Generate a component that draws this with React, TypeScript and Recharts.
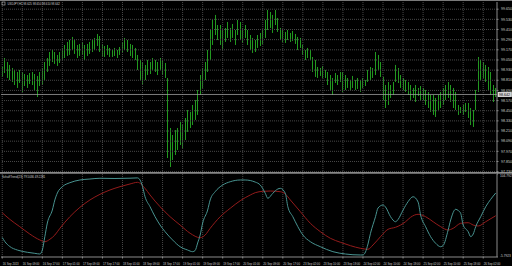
import React from 'react';
import { ComposedChart, Bar, XAxis, YAxis, ReferenceLine, LineChart, Line } from 'recharts';

// ---------- data ----------
const barHigh = [
  98.967, 99.073, 99.026, 98.991, 98.955, 98.932, 98.908, 98.932, 98.908, 98.884,
  98.872, 98.896, 98.908, 98.884, 98.861, 98.908, 98.955, 99.026, 99.073, 99.144,
  99.168, 99.144, 99.109, 99.144, 99.192, 99.227, 99.263, 99.286, 99.322, 99.286,
  99.227, 99.239, 99.263, 99.227, 99.239, 99.263, 99.286, 99.310, 99.357, 99.333,
  99.239, 99.215, 99.227, 99.192, 99.168, 99.192, 99.168, 99.203, 99.263, 99.310,
  99.286, 99.239, 99.227, 99.192, 99.109, 99.050, 99.026, 98.991, 99.050, 99.026,
  99.073, 99.050, 99.026, 99.073, 99.050, 99.014, 98.837, 98.246, 98.163, 98.222,
  98.246, 98.317, 98.281, 98.364, 98.459, 98.435, 98.518, 98.577, 98.695, 98.872,
  98.955, 99.026, 99.168, 99.404, 99.523, 99.582, 99.463, 99.463, 99.404, 99.428,
  99.499, 99.428, 99.475, 99.404, 99.523, 99.499, 99.428, 99.463, 99.404, 99.345,
  99.310, 99.286, 99.345, 99.369, 99.404, 99.523, 99.641, 99.617, 99.582, 99.641,
  99.546, 99.428, 99.404, 99.381, 99.404, 99.369, 99.393, 99.357, 99.322, 99.310,
  99.227, 99.168, 99.192, 99.168, 99.085, 99.050, 98.967, 98.955, 98.979, 98.932,
  98.908, 98.872, 98.837, 98.896, 98.872, 98.908, 98.908, 98.872, 98.837, 98.813,
  98.861, 98.813, 98.837, 98.813, 98.837, 98.813, 98.932, 98.967, 98.955, 99.144,
  99.109, 99.026, 98.849, 98.754, 98.790, 98.754, 98.790, 98.991, 98.955, 98.872,
  98.837, 98.813, 98.790, 98.754, 98.719, 98.754, 98.719, 98.742, 98.719, 98.695,
  98.672, 98.636, 98.636, 98.601, 98.636, 98.672, 98.719, 98.754, 98.790, 98.754,
  98.719, 98.672, 98.518, 98.494, 98.518, 98.542, 98.542, 98.482, 98.459, 98.695,
  99.085, 99.050, 99.026, 98.991, 98.967, 98.908, 98.754, 98.719,
];

const barLow = [
  98.849, 98.896, 98.837, 98.813, 98.790, 98.754, 98.719, 98.778, 98.672, 98.742,
  98.719, 98.766, 98.754, 98.695, 98.612, 98.742, 98.754, 98.813, 98.908, 98.979,
  99.026, 99.003, 98.979, 99.014, 99.050, 99.073, 99.097, 99.109, 99.168, 99.121,
  99.073, 99.097, 99.109, 99.050, 99.097, 99.121, 99.144, 99.168, 99.215, 99.144,
  99.097, 99.085, 99.109, 99.085, 99.085, 99.097, 99.073, 99.109, 99.144, 99.168,
  99.144, 99.097, 99.073, 99.050, 98.932, 98.813, 98.754, 98.813, 98.872, 98.884,
  98.932, 98.908, 98.872, 98.932, 98.872, 98.837, 97.891, 97.785, 97.868, 97.927,
  97.986, 98.045, 98.010, 98.104, 98.199, 98.246, 98.281, 98.341, 98.400, 98.636,
  98.719, 98.813, 98.908, 99.050, 99.227, 99.345, 99.286, 99.227, 99.168, 99.263,
  99.310, 99.263, 99.310, 99.227, 99.345, 99.286, 99.251, 99.310, 99.227, 99.168,
  99.133, 99.144, 99.192, 99.215, 99.239, 99.310, 99.404, 99.428, 99.369, 99.463,
  99.381, 99.286, 99.263, 99.251, 99.286, 99.263, 99.274, 99.239, 99.168, 99.192,
  99.109, 99.050, 99.073, 99.050, 98.908, 98.849, 98.837, 98.861, 98.837, 98.837,
  98.754, 98.695, 98.636, 98.778, 98.754, 98.790, 98.672, 98.695, 98.719, 98.695,
  98.719, 98.695, 98.707, 98.672, 98.719, 98.742, 98.790, 98.813, 98.837, 98.872,
  98.932, 98.849, 98.577, 98.482, 98.518, 98.601, 98.636, 98.790, 98.778, 98.719,
  98.695, 98.672, 98.636, 98.577, 98.601, 98.553, 98.624, 98.577, 98.577, 98.518,
  98.482, 98.435, 98.400, 98.376, 98.459, 98.482, 98.518, 98.577, 98.601, 98.553,
  98.482, 98.459, 98.400, 98.423, 98.400, 98.435, 98.364, 98.281, 98.258, 98.459,
  98.672, 98.813, 98.837, 98.790, 98.695, 98.636, 98.553, 98.612,
];

const lastClose = 98.642;

const priceTicks = [
  99.65, 99.53, 99.41, 99.29, 99.17, 99.05, 98.93, 98.81, 98.69,
  98.57, 98.45, 98.33, 98.21, 98.09, 97.97, 97.85, 97.73,
];

const timeTickBars = [0, 8, 16, 24, 32, 40, 48, 56, 64, 72, 80, 88, 96, 104, 112, 120, 128, 136, 144, 152, 160, 168, 176, 184, 192];
const timeTickLabels = [
  '16 Sep 2013', '16 Sep 09:00', '16 Sep 17:00', '17 Sep 01:00', '17 Sep 09:00', '17 Sep 17:00',
  '18 Sep 01:00', '18 Sep 09:00', '18 Sep 17:00', '19 Sep 01:00', '19 Sep 09:00', '19 Sep 17:00',
  '20 Sep 01:00', '20 Sep 09:00', '20 Sep 17:00', '23 Sep 02:00', '23 Sep 10:00', '23 Sep 18:00',
  '24 Sep 02:00', '24 Sep 10:00', '24 Sep 18:00', '25 Sep 02:00', '25 Sep 10:00', '25 Sep 18:00',
  '26 Sep 02:00',
];

const fastBars = [0, 1, 3, 6, 10, 13, 15, 16, 17, 18, 20, 21, 22, 24, 27, 31, 35, 39, 45, 51, 54, 55, 56, 57, 59, 61, 63, 65, 68, 71, 74, 76, 77, 78, 79, 80, 82, 83, 85, 88, 91, 95, 97, 101, 103, 105, 106, 108, 110, 111, 113, 114, 116, 118, 120, 123, 127, 132, 137, 143, 144, 145, 146, 147, 149, 150, 152, 153, 155, 157, 158, 160, 162, 164, 166, 167, 169, 171, 173, 175, 176, 178, 179, 181, 182, 183, 184, 186, 187, 188, 189, 191, 193, 195, 197];
const fastValues = [20.2, 14.9, 8.2, 3.5, 0.5, -0.9, -1.8, 3.5, 21.3, 39.5, 56.8, 70.2, 79.5, 87.9, 93.2, 96.8, 98.1, 99.1, 98.8, 99.2, 99.6, 96.8, 87.9, 74.5, 61.2, 47.9, 36.8, 27.9, 16.9, 7.9, 3.5, 1.3, 2.9, 12.9, 23.5, 39.5, 56.8, 70.2, 81.2, 90.1, 94.5, 96.8, 96.8, 94.0, 90.1, 79.1, 72.4, 79.1, 84.8, 85.7, 79.1, 61.2, 47.9, 34.6, 23.5, 14.6, 7.9, 1.3, -1.8, -3.1, -3.1, 0.9, 11.5, 25.8, 47.9, 59.5, 63.5, 60.8, 47.9, 41.2, 44.2, 56.8, 67.9, 74.5, 67.5, 50.2, 34.6, 21.3, 12.5, 7.9, 9.5, 30.2, 43.5, 57.8, 56.2, 52.4, 36.8, 27.9, 21.3, 24.8, 34.6, 47.9, 61.2, 71.1, 79.5];

const slowBars = [0, 3, 7, 11, 15, 17, 19, 21, 23, 27, 31, 35, 39, 43, 47, 51, 54, 57, 59, 63, 67, 71, 75, 79, 81, 83, 87, 91, 95, 99, 101, 104, 107, 111, 113, 115, 119, 123, 127, 131, 135, 139, 143, 146, 148, 151, 154, 157, 159, 161, 163, 166, 169, 172, 175, 178, 180, 183, 186, 188, 190, 193, 197];
const slowValues = [53.2, 44.4, 34.6, 24.8, 16.9, 14.6, 17.8, 23.5, 32.4, 47.9, 60.4, 70.2, 77.7, 83.5, 87.9, 91.5, 93.7, 85.7, 76.8, 61.2, 47.9, 36.8, 25.8, 19.9, 23.5, 32.4, 47.9, 59.1, 69.2, 76.8, 79.9, 81.7, 82.1, 81.2, 78.1, 70.2, 54.6, 39.1, 27.9, 19.1, 13.8, 9.3, 5.8, 4.5, 10.2, 21.3, 31.1, 33.8, 36.8, 41.2, 47.1, 51.1, 47.9, 41.2, 34.6, 30.2, 32.4, 39.1, 39.9, 36.8, 35.5, 41.2, 49.2];

const oscTicks = [104.7923, -5.7923];
const mainHeader = 'USDJPY,H1  98.625 98.650 98.610 98.642';
const subHeader = 'SchaffTrend(23) 79.5036 49.2281';

// ---------- styles ----------
const FONT = '"Liberation Sans", Arial, sans-serif';
const BAR_COLOR = '#21981f';
const GRID = '#474747';
const TEXT = '#cfcfcf';
const AXIS = '#8a8a8a';
const FAST = '#489390';
const SLOW = '#931b1b';

const mainData = barHigh.map((h, i) => ({ i, range: [barLow[i], h] }));
const fastData = fastBars.map((b, k) => ({ i: b, v: fastValues[k] }));
const slowData = slowBars.map((b, k) => ({ i: b, v: slowValues[k] }));

function HiLoShape(props: any) {
  const { x, y, width, height } = props;
  if (x == null || y == null) return null;
  const top = Math.min(y, y + height);
  const len = Math.max(1, Math.abs(height));
  const cx = Math.floor(x + width / 2) + 0.5;
  return <line x1={cx} x2={cx} y1={top} y2={top + len} stroke={BAR_COLOR} strokeWidth={1} />;
}

function PriceTick(props: any) {
  const { x, y, payload } = props;
  return (
    <text x={x + 0.5} y={y + 1.2} fontSize={3.6} fill={TEXT} fontFamily={FONT} textAnchor="start">
      {Number(payload.value).toFixed(3)}
    </text>
  );
}

function OscTick(props: any) {
  const { x, y, payload } = props;
  const isTop = payload.value === oscTicks[0];
  return (
    <text x={x} y={y + (isTop ? 2.6 : 0.4)} fontSize={3.2} fill={TEXT} fontFamily={FONT} textAnchor="start">
      {String(payload.value)}
    </text>
  );
}

function TimeTick(props: any) {
  const { x, y, payload } = props;
  const k = timeTickBars.indexOf(payload.value);
  return (
    <text x={x + 0.5} y={y + 4} fontSize={2.8} fill={TEXT} fontFamily={FONT} textAnchor="start">
      {k >= 0 ? timeTickLabels[k] : ''}
    </text>
  );
}

function BidLabel(props: any) {
  const vb = props.viewBox || {};
  const x = (vb.x || 0) + (vb.width || 0);
  const y = vb.y || 0;
  return (
    <g>
      <rect x={x + 1} y={y - 2.3} width={13.5} height={4.6} fill="#d6d6d6" stroke="#ffffff" strokeWidth={0.5} />
      <text x={x + 2} y={y + 1.2} fontSize={3.6} fill="#000" fontFamily={FONT}>
        {lastClose.toFixed(3)}
      </text>
    </g>
  );
}

export default function App() {
  return (
    <div style={{ position: 'fixed', left: 0, top: 0, width: 512, height: 266, background: '#000', overflow: 'hidden' }}>
      <div style={{ position: 'absolute', left: 0, top: 0 }}>
        <ComposedChart width={512} height={173} data={mainData} margin={{ top: 2, right: 0, bottom: 0, left: 1 }}>
          <XAxis dataKey="i" type="category" hide />
          <YAxis
            orientation="right"
            width={15}
            domain={[97.714, 99.735]}
            allowDataOverflow
            ticks={priceTicks}
            interval={0}
            tick={<PriceTick />}
            tickSize={1.5}
            tickLine={{ stroke: AXIS }}
            axisLine={{ stroke: AXIS }}
          />
          {priceTicks.map((p) => (
            <ReferenceLine key={'h' + p} y={p} stroke={GRID} strokeDasharray="1 1" />
          ))}
          {timeTickBars.map((b) => (
            <ReferenceLine key={'v' + b} x={b} stroke={GRID} strokeDasharray="1 1" />
          ))}
          <Bar dataKey="range" shape={<HiLoShape />} isAnimationActive={false} />
          <ReferenceLine y={lastClose} stroke="#9c9c9c" strokeWidth={0.8} label={<BidLabel />} />
        </ComposedChart>
      </div>
      <div style={{ position: 'absolute', left: 0, top: 173 }}>
        <LineChart width={512} height={93} margin={{ top: 1, right: 0, bottom: 0, left: 1 }}>
          <XAxis
            dataKey="i"
            type="number"
            domain={[-0.5, 197.5]}
            allowDataOverflow
            ticks={timeTickBars}
            interval={0}
            height={9}
            tick={<TimeTick />}
            tickSize={1.5}
            tickLine={{ stroke: AXIS }}
            axisLine={{ stroke: AXIS }}
          />
          <YAxis
            orientation="right"
            width={15}
            type="number"
            domain={[-5.79, 104.79]}
            allowDataOverflow
            ticks={oscTicks}
            interval={0}
            tick={<OscTick />}
            tickSize={1}
            tickLine={{ stroke: AXIS }}
            axisLine={{ stroke: AXIS }}
          />
          {timeTickBars.map((b) => (
            <ReferenceLine key={'sv' + b} x={b} stroke={GRID} strokeDasharray="1 1" />
          ))}
          <Line data={slowData} dataKey="v" type="monotone" stroke={SLOW} strokeWidth={1} dot={false} isAnimationActive={false} />
          <Line data={fastData} dataKey="v" type="monotone" stroke={FAST} strokeWidth={1} dot={false} isAnimationActive={false} />
        </LineChart>
      </div>
      <svg width={512} height={266} style={{ position: 'absolute', left: 0, top: 0, pointerEvents: 'none' }}>
        <line x1={0} x2={512} y1={0.5} y2={0.5} stroke="#7a7a7a" strokeWidth={1} />
        <rect x={2} y={2} width={3} height={3} fill="none" stroke="#bdbdbd" strokeWidth={0.6} />
        <text x={7.5} y={5} fontSize={2.8} fill={TEXT} fontFamily={FONT}>{mainHeader}</text>
        <rect x={0} y={172.2} width={512} height={1.4} fill="#a8a8a8" />
        <text x={2} y={177.6} fontSize={2.9} fill={TEXT} fontFamily={FONT}>{subHeader}</text>
      </svg>
    </div>
  );
}
